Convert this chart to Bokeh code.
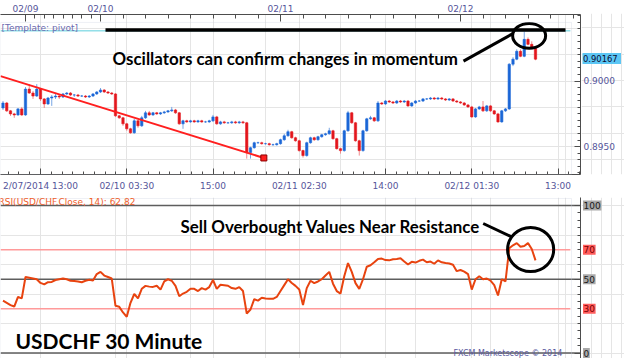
from bokeh.plotting import figure
from bokeh.layouts import column, row
from bokeh.models import (Range1d, LinearAxis, FixedTicker, Grid, Label, BoxAnnotation,
                          ColumnDataSource, CustomJSTickFormatter)
from bokeh.core.properties import value
from bokeh.embed import file_html
from bokeh.resources import INLINE

# ---------------- data (30-minute bars, index 0 = first labelled bar) ----------------
first_bar = -10
first_open = 0.89795
close = [
    0.89833, 0.89773, 0.89750, 0.89742, 0.89788, 0.89742, 0.89939, 0.89909, 0.89886, 0.89939,
    0.89864, 0.89826, 0.89871, 0.89879, 0.89886, 0.89879, 0.89902, 0.89909, 0.89894, 0.89894,
    0.89886, 0.89886, 0.89879, 0.89886, 0.89902, 0.89917, 0.89932, 0.89917, 0.89909, 0.89902,
    0.89735, 0.89720, 0.89674, 0.89636, 0.89606, 0.89697, 0.89659, 0.89720, 0.89758, 0.89742,
    0.89758, 0.89750, 0.89758, 0.89765, 0.89773, 0.89780, 0.89758, 0.89674, 0.89697, 0.89689,
    0.89697, 0.89689, 0.89697, 0.89689, 0.89689, 0.89697, 0.89727, 0.89674, 0.89689, 0.89682,
    0.89682, 0.89689, 0.89682, 0.89689, 0.89682, 0.89455, 0.89492, 0.89530, 0.89530, 0.89523,
    0.89523, 0.89515, 0.89515, 0.89523, 0.89553, 0.89583, 0.89614, 0.89568, 0.89545, 0.89470,
    0.89432, 0.89530, 0.89568, 0.89553, 0.89576, 0.89591, 0.89598, 0.89621, 0.89561, 0.89485,
    0.89470, 0.89621, 0.89758, 0.89682, 0.89545, 0.89470, 0.89621, 0.89712, 0.89720, 0.89697,
    0.89833, 0.89826, 0.89848, 0.89841, 0.89833, 0.89848, 0.89841, 0.89848, 0.89811, 0.89833,
    0.89848, 0.89848, 0.89864, 0.89864, 0.89871, 0.89864, 0.89871, 0.89864, 0.89856, 0.89864,
    0.89848, 0.89841, 0.89833, 0.89818, 0.89803, 0.89727, 0.89788, 0.89803, 0.89773, 0.89811,
    0.89773, 0.89750, 0.89689, 0.89773, 0.89788, 0.90129, 0.90167, 0.90227, 0.90189, 0.90318,
    0.90280, 0.90250, 0.90167,
]
high = [
    0.89848, 0.89841, 0.89780, 0.89758, 0.89795, 0.89803, 0.89955, 0.89977, 0.89924, 0.89977,
    0.89947, 0.89871, 0.89879, 0.89894, 0.89902, 0.89894, 0.89909, 0.89917, 0.89917, 0.89902,
    0.89902, 0.89894, 0.89894, 0.89894, 0.89909, 0.89924, 0.89947, 0.89939, 0.89924, 0.89917,
    0.89909, 0.89742, 0.89727, 0.89682, 0.89644, 0.89712, 0.89705, 0.89735, 0.89773, 0.89773,
    0.89765, 0.89765, 0.89765, 0.89773, 0.89780, 0.89803, 0.89788, 0.89765, 0.89705, 0.89705,
    0.89705, 0.89705, 0.89705, 0.89705, 0.89697, 0.89705, 0.89742, 0.89735, 0.89697, 0.89697,
    0.89689, 0.89697, 0.89697, 0.89697, 0.89697, 0.89689, 0.89500, 0.89538, 0.89538, 0.89538,
    0.89530, 0.89530, 0.89523, 0.89530, 0.89561, 0.89598, 0.89629, 0.89621, 0.89576, 0.89553,
    0.89477, 0.89538, 0.89576, 0.89576, 0.89583, 0.89598, 0.89606, 0.89644, 0.89629, 0.89568,
    0.89492, 0.89629, 0.89773, 0.89765, 0.89689, 0.89553, 0.89629, 0.89720, 0.89735, 0.89727,
    0.89848, 0.89841, 0.89856, 0.89856, 0.89848, 0.89856, 0.89856, 0.89856, 0.89856, 0.89841,
    0.89856, 0.89856, 0.89871, 0.89871, 0.89879, 0.89879, 0.89879, 0.89879, 0.89871, 0.89871,
    0.89871, 0.89856, 0.89848, 0.89841, 0.89826, 0.89811, 0.89795, 0.89811, 0.89848, 0.89818,
    0.89818, 0.89780, 0.89758, 0.89780, 0.89795, 0.90136, 0.90182, 0.90242, 0.90242, 0.90379,
    0.90333, 0.90303, 0.90258,
]
low = [
    0.89780, 0.89765, 0.89735, 0.89720, 0.89735, 0.89735, 0.89735, 0.89902, 0.89864, 0.89879,
    0.89848, 0.89795, 0.89818, 0.89811, 0.89864, 0.89864, 0.89871, 0.89894, 0.89886, 0.89879,
    0.89879, 0.89879, 0.89871, 0.89871, 0.89879, 0.89894, 0.89909, 0.89909, 0.89902, 0.89894,
    0.89727, 0.89712, 0.89659, 0.89621, 0.89598, 0.89598, 0.89644, 0.89651, 0.89712, 0.89735,
    0.89735, 0.89742, 0.89742, 0.89750, 0.89758, 0.89765, 0.89750, 0.89667, 0.89636, 0.89682,
    0.89682, 0.89682, 0.89682, 0.89682, 0.89682, 0.89682, 0.89689, 0.89667, 0.89667, 0.89674,
    0.89674, 0.89674, 0.89674, 0.89674, 0.89674, 0.89409, 0.89409, 0.89485, 0.89523, 0.89515,
    0.89515, 0.89508, 0.89508, 0.89508, 0.89515, 0.89545, 0.89576, 0.89561, 0.89538, 0.89462,
    0.89417, 0.89424, 0.89523, 0.89545, 0.89545, 0.89568, 0.89583, 0.89591, 0.89553, 0.89477,
    0.89447, 0.89462, 0.89614, 0.89674, 0.89538, 0.89432, 0.89462, 0.89614, 0.89705, 0.89689,
    0.89689, 0.89818, 0.89818, 0.89833, 0.89826, 0.89826, 0.89833, 0.89833, 0.89803, 0.89803,
    0.89826, 0.89841, 0.89841, 0.89856, 0.89856, 0.89856, 0.89856, 0.89856, 0.89848, 0.89848,
    0.89841, 0.89833, 0.89826, 0.89811, 0.89795, 0.89720, 0.89720, 0.89780, 0.89765, 0.89765,
    0.89765, 0.89742, 0.89682, 0.89682, 0.89765, 0.89780, 0.90114, 0.90159, 0.90182, 0.90182,
    0.90273, 0.90242, 0.90159,
]
rsi = [
    35.5, 34, 32.5, 31.5, 38, 37, 51.5, 51, 50.5, 50,
    47.5, 46.5, 48, 48.2, 49.5, 50, 50.5, 50, 49, 48.8,
    48.5, 48, 49, 49.6, 49.2, 53.5, 55, 52.5, 51.5, 50.5,
    32, 31.3, 27.5, 24.5, 34, 40, 37, 43.5, 45.5, 45,
    44.8, 45.6, 43, 48.6, 50, 49, 45.5, 38.5, 40.3, 41.5,
    43.5, 43.5, 42, 44, 43, 44.7, 49.5, 43.5, 46.3, 46,
    45.6, 44, 43.5, 44.7, 42, 26.8, 29.5, 36.5, 35.5, 37.5,
    37, 36.7, 36.7, 38, 42, 46, 50, 47.5, 45.5, 43,
    32.5, 44, 49, 47.4, 48.5, 50, 52.5, 55, 47, 42,
    40.3, 52, 61, 55, 47.4, 43.5, 50, 58.5, 59.5, 61.5,
    63.8, 64, 63, 62.8, 63.5, 63.8, 64.2, 62, 60, 61.8,
    61.3, 62.5, 63.3, 61.5, 62, 60.5, 62.8, 61.5, 61, 60.7,
    59.8, 55.5, 56.3, 55.2, 53.5, 43, 50, 52, 50, 50.5,
    49, 46, 39, 50, 48.5, 71, 73, 74.5, 72, 72.5,
    74.5, 70.5, 62.82,
]
time_tick_bars = [0, 23, 46, 69, 92, 115, 138]
time_tick_labels = ["2/07/2014 13:00", "02/10 03:30", "15:00", "02/11 02:30",
                    "14:00", "02/12 01:30", "13:00"]
day_tick_bars = [-4, 16, 64, 112]
day_tick_labels = ["02/09", "02/10", "02/11", "02/12"]
price_ticks = [0.8950, 0.9000]
last_price = 0.90167
rsi_levels = [0, 30, 50, 70, 100]
rsi_title = "RSI(USD/CHF.Close, 14): 62.82"
trend_x = [-10.67, 59.56]
trend_y = [0.90038, 0.89414]
pivot_level = 0.90383
resistance_x = [17.33, 140.0]
resistance_y = [0.90390, 0.90390]

# ---------------- derived ----------------
bars = list(range(first_bar, first_bar + len(close)))
opens = [first_open] + close[:-1]
up = [c >= o for o, c in zip(opens, close)]
BLUE, RED = "#1b66d6", "#e3161c"
BLUE_W, RED_W = "#79a6e4", "#f08a8c"
src = ColumnDataSource(dict(
    x=bars, high=high, low=low,
    top=[max(o, c) for o, c in zip(opens, close)],
    bottom=[min(o, c) for o, c in zip(opens, close)],
    body=[BLUE if u else RED for u in up],
    wick=[BLUE_W if u else RED_W for u in up],
))

PX_PER_BAR = 3.75
FRAME_W = 580
x_start = -10.667
x_end = x_start + FRAME_W / PX_PER_BAR
xr = Range1d(x_start, x_end)
PRICE_PX = 13200.0      # pixels per price unit
RSI_PX = 1.475          # pixels per RSI point
RSI_ZERO_Y = 352.5      # page y of RSI 0
RSI_TOP_Y = 197         # page y of RSI panel top

LBL = "#55559a"
AX = "#4d4d4d"
GRID = "#e4e4e4"
FONT = "DejaVu Sans"
blank = CustomJSTickFormatter(code="return ''")


def rsi_at(px):
    return (RSI_ZERO_Y - px) / RSI_PX


def common(fig):
    fig.outline_line_color = None
    fig.background_fill_color = "white"
    fig.border_fill_color = "white"
    return fig


# ---------------- price panel ----------------
p1 = common(figure(width=FRAME_W + 1, height=197, x_range=xr,
                   y_range=Range1d(0.892879, 0.905076),
                   x_axis_location=None, y_axis_location=None, toolbar_location=None,
                   output_backend="svg", min_border_left=0, min_border_right=1,
                   min_border_top=13, min_border_bottom=23))

p1.add_layout(Grid(dimension=0, ticker=FixedTicker(ticks=time_tick_bars),
                   grid_line_color=GRID, grid_line_width=1))
p1.add_layout(Grid(dimension=1, ticker=FixedTicker(ticks=price_ticks),
                   grid_line_color=GRID, grid_line_width=1))
p1.add_layout(BoxAnnotation(right=141.6, top=0.90447, fill_alpha=0,
                            line_color="#c6cedf", line_width=1))

top_minor = [-4 + 2.5 * k for k in range(9)] + [16 + 6 * k for k in range(1, 22)]
top_ax = LinearAxis(ticker=FixedTicker(ticks=day_tick_bars, minor_ticks=top_minor),
                    major_label_overrides=dict(zip(day_tick_bars, day_tick_labels)),
                    major_tick_in=7, major_tick_out=0, minor_tick_in=4, minor_tick_out=0,
                    major_label_standoff=1, axis_line_color=AX, major_tick_line_color=AX,
                    minor_tick_line_color=AX, major_label_text_font=FONT,
                    major_label_text_font_size="9px", major_label_text_color=LBL)
p1.add_layout(top_ax, "above")

bot_minor = [23 / 8 * k for k in range(-3, 53)]
bot_ax = LinearAxis(ticker=FixedTicker(ticks=time_tick_bars, minor_ticks=bot_minor),
                    major_label_overrides=dict(zip(time_tick_bars, time_tick_labels)),
                    major_tick_in=6, major_tick_out=0, minor_tick_in=3, minor_tick_out=0,
                    major_label_standoff=6, axis_line_color=AX, major_tick_line_color=AX,
                    minor_tick_line_color=AX, major_label_text_font=FONT,
                    major_label_text_font_size="9px", major_label_text_color=LBL)
p1.add_layout(bot_ax, "below")

price_minor = [0.8925 + 0.0005 * k for k in range(27)]
py_ax = LinearAxis(ticker=FixedTicker(ticks=price_ticks, minor_ticks=price_minor),
                   formatter=blank, major_tick_in=6, major_tick_out=0, minor_tick_in=3,
                   minor_tick_out=0, major_label_standoff=0, axis_line_color=AX,
                   major_tick_line_color=AX, minor_tick_line_color=AX,
                   major_label_text_font_size="1px")
p1.add_layout(py_ax, "right")

# pivot line and candles
p1.line([x_start, 141.3], [pivot_level, pivot_level], line_color="#5ccfdc", line_width=1)
p1.segment("x", "high", "x", "low", source=src, line_color="wick", line_width=1)
p1.vbar(x="x", width=0.62, top="top", bottom="bottom", fill_color="body",
        line_color="body", line_width=0.6, source=src)

# trend line
p1.line(trend_x, trend_y, line_color="#ff1f1f", line_width=2)
p1.scatter([trend_x[1]], [trend_y[1]], marker="square", size=6,
           fill_color="#ff1f1f", line_color="#8a0000", line_width=1)

# drawn annotations
p1.line(resistance_x, resistance_y, line_color="black", line_width=3.5)
p1.ellipse(x=[130.3], y=[0.90345], width=8.8, height=0.00189, fill_alpha=0,
           line_color="black", line_width=3)
p1.line([112.8, 126.1], [0.90152, 0.90364], line_color="black", line_width=3)

p1.add_layout(Label(x=-10.4, y=0.90402, text="[Template: pivot]", text_font=FONT,
                    text_font_size="9px", text_color="#6a6ab0", text_baseline="middle"))
p1.add_layout(Label(x=19.2, y=0.9 + (80 - 57.5) / PRICE_PX,
                    text="Oscillators can confirm changes in momentum",
                    text_font="Lato", text_font_style="bold", text_font_size="16.9px",
                    text_color="black", text_baseline="middle"))

# right-hand price labels
q1 = common(figure(width=43, height=197, x_range=Range1d(0, 43), y_range=p1.y_range,
                   x_axis_location=None, y_axis_location=None, toolbar_location=None,
                   output_backend="svg", min_border_left=0, min_border_right=0,
                   min_border_top=13, min_border_bottom=23))
q1.text(x=[2] * len(price_ticks), y=price_ticks, text=[f"{v:.4f}" for v in price_ticks],
        text_font=value(FONT), text_font_size=value("9px"), text_color=LBL,
        text_baseline="middle", text_align="left")
half_h = 5.5 / PRICE_PX
q1.quad(left=[1], right=[39.5], bottom=[last_price - half_h], top=[last_price + half_h],
        fill_color="#5cc6f4", line_color=None)
q1.text(x=[1.5], y=[last_price], text=[f"{last_price:.5f}"], text_font=value(FONT),
        text_font_size=value("8.4px"), text_color="#0a0a30", text_baseline="middle",
        text_align="left")

# ---------------- RSI panel ----------------
p2 = common(figure(width=FRAME_W + 1, height=161, x_range=xr,
                   y_range=Range1d(rsi_at(358), rsi_at(RSI_TOP_Y)),
                   x_axis_location=None, y_axis_location=None, toolbar_location=None,
                   output_backend="svg", min_border_left=0, min_border_right=1,
                   min_border_top=0, min_border_bottom=0))

p2.add_layout(Grid(dimension=0, ticker=FixedTicker(ticks=time_tick_bars),
                   grid_line_color=GRID, grid_line_width=1))
p2.add_layout(BoxAnnotation(right=141.6, top=rsi_at(198), fill_alpha=0,
                            line_color="#c6cedf", line_width=1))

ry_ax = LinearAxis(ticker=FixedTicker(ticks=[0, 50, 100], minor_ticks=list(range(0, 105, 5))),
                   formatter=blank, major_tick_in=6, major_tick_out=0, minor_tick_in=3,
                   minor_tick_out=0, major_label_standoff=0, axis_line_color=AX,
                   major_tick_line_color=AX, minor_tick_line_color=AX,
                   major_label_text_font_size="1px")
p2.add_layout(ry_ax, "right")

level_dark = [lv for lv in rsi_levels if lv in (0, 50, 100)]
level_soft = [lv for lv in rsi_levels if lv in (30, 70)]
p2.segment(x0=[x_start] * len(level_dark), y0=level_dark, x1=[x_end] * len(level_dark),
           y1=level_dark, line_color="#5e5e5e", line_width=1.6)
p2.segment(x0=[x_start] * len(level_soft), y0=level_soft, x1=[141.3] * len(level_soft),
           y1=level_soft, line_color="#ff9a9a", line_width=1.4)

p2.line(bars, rsi, line_color="#e8430f", line_width=2)

p2.ellipse(x=[130.7], y=[rsi_at(249)], width=12.3, height=44 / RSI_PX, fill_alpha=0,
           line_color="black", line_width=3)
p2.line([118.05, 125.8], [rsi_at(223), rsi_at(236.7)], line_color="black", line_width=3)

p2.add_layout(Label(x=-11.2, y=rsi_at(201.5), text=rsi_title, text_font=FONT,
                    text_font_size="9px", text_color="#f0602a", text_baseline="middle"))
p2.add_layout(Label(x=37.33, y=rsi_at(226), text="Sell Overbought Values Near Resistance",
                    text_font="Lato", text_font_style="bold", text_font_size="16.9px",
                    text_color="black", text_baseline="middle"))
p2.add_layout(Label(x=-6.67, y=rsi_at(339.5), text="USDCHF 30 Minute", text_font="Lato",
                    text_font_style="bold", text_font_size="21px", text_color="black",
                    text_baseline="middle"))
p2.add_layout(Label(x=110.1, y=rsi_at(353.4), text="FXCM Marketscope \u00a9 2014",
                    text_font=FONT, text_font_size="8px", text_color="#5a5aa0",
                    text_baseline="middle"))

# right-hand RSI level labels
q2 = common(figure(width=43, height=161, x_range=Range1d(0, 43), y_range=p2.y_range,
                   x_axis_location=None, y_axis_location=None, toolbar_location=None,
                   output_backend="svg", min_border_left=0, min_border_right=0,
                   min_border_top=0, min_border_bottom=0))
soft = [lv in (30, 70) for lv in rsi_levels]
lvl_txt = [str(lv) for lv in rsi_levels]
half_r = 5.0 / RSI_PX
q2.quad(left=[1.5] * len(rsi_levels), right=[2.5 + 5.8 * len(t) for t in lvl_txt],
        bottom=[lv - half_r for lv in rsi_levels], top=[lv + half_r for lv in rsi_levels],
        fill_color=["#ff5c5c" if s else "#a9a9a9" for s in soft], line_color=None)
q2.text(x=[2] * len(rsi_levels), y=rsi_levels, text=lvl_txt, text_font=value(FONT),
        text_font_size=value("9px"), text_color=["#7a0000" if s else "#1a1a1a" for s in soft],
        text_baseline="middle", text_align="left")

layout = row(column(p1, p2, spacing=0), column(q1, q2, spacing=0), spacing=0)
open("out.html", "w").write(file_html(layout, INLINE))
